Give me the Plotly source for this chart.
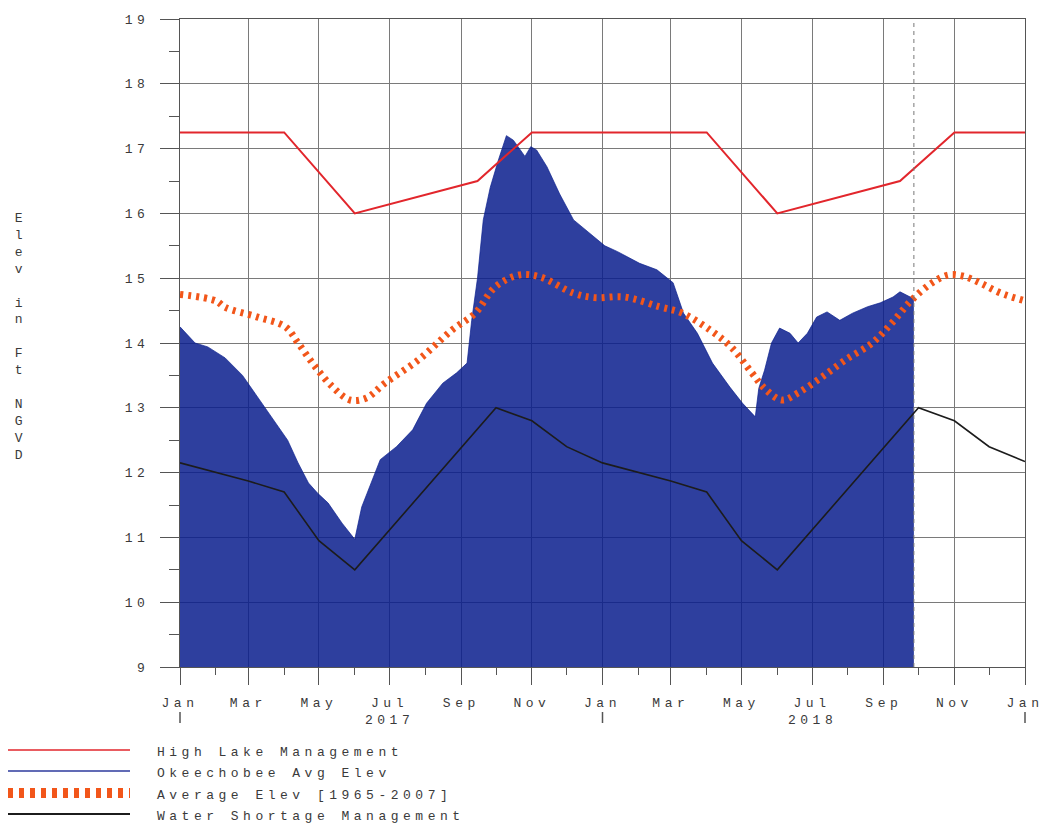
import pandas as pd
import plotly.graph_objects as go

# ---- data -------------------------------------------------------------
lake_dates = [
    "2017-01-01", "2017-01-14", "2017-01-25", "2017-02-09", "2017-02-24",
    "2017-03-09", "2017-03-21", "2017-04-04", "2017-04-13", "2017-04-22",
    "2017-04-30", "2017-05-09", "2017-05-21", "2017-06-01", "2017-06-07",
    "2017-06-14", "2017-06-23", "2017-07-07", "2017-07-21", "2017-08-02",
    "2017-08-16", "2017-08-28", "2017-09-06", "2017-09-10", "2017-09-15",
    "2017-09-20", "2017-09-26", "2017-10-03", "2017-10-10", "2017-10-16",
    "2017-10-26", "2017-10-31", "2017-11-05", "2017-11-14", "2017-11-25",
    "2017-12-07", "2017-12-21", "2018-01-03", "2018-01-14", "2018-02-02",
    "2018-02-17", "2018-03-03", "2018-03-12", "2018-03-24", "2018-04-06",
    "2018-04-21", "2018-05-02", "2018-05-13", "2018-05-16", "2018-05-21",
    "2018-05-27", "2018-06-03", "2018-06-12", "2018-06-19", "2018-06-27",
    "2018-07-05", "2018-07-14", "2018-07-25", "2018-08-05", "2018-08-18",
    "2018-08-29", "2018-09-09", "2018-09-15", "2018-09-26", "2018-09-27",
]
lake_elev = [
    14.25, 14.00, 13.94, 13.77, 13.50,
    13.17, 12.86, 12.50, 12.15, 11.84,
    11.68, 11.53, 11.22, 10.97, 11.47,
    11.78, 12.20, 12.40, 12.66, 13.07,
    13.38, 13.54, 13.69, 14.35, 15.00,
    15.90, 16.40, 16.82, 17.20, 17.13,
    16.88, 17.03, 16.98, 16.72, 16.30,
    15.90, 15.70, 15.50, 15.41, 15.23,
    15.13, 14.93, 14.46, 14.15, 13.69,
    13.32, 13.07, 12.86, 13.30, 13.58,
    14.00, 14.23, 14.15, 14.00, 14.15,
    14.40, 14.48, 14.35, 14.46, 14.56,
    14.62, 14.71, 14.79, 14.69, 14.70,
]

avg_dates = [
    "2017-01-01", "2017-02-01", "2017-02-09", "2017-03-09", "2017-04-02",
    "2017-04-13", "2017-04-28", "2017-05-13", "2017-05-28", "2017-06-11",
    "2017-06-27", "2017-07-26", "2017-08-24", "2017-09-13", "2017-09-30",
    "2017-10-21", "2017-11-08", "2017-12-07", "2017-12-25", "2018-01-20",
    "2018-02-19", "2018-03-11", "2018-04-04", "2018-04-22", "2018-05-10",
    "2018-05-21", "2018-06-05", "2018-06-19", "2018-07-10", "2018-07-30",
    "2018-08-22", "2018-09-08", "2018-09-25", "2018-10-12", "2018-10-27",
    "2018-11-09", "2018-11-24", "2018-12-11", "2019-01-01",
]
avg_elev = [
    14.75, 14.65, 14.55, 14.40, 14.25,
    14.00, 13.63, 13.32, 13.12, 13.15,
    13.38, 13.74, 14.20, 14.46, 14.86,
    15.05, 15.02, 14.77, 14.70, 14.71,
    14.56, 14.46, 14.20, 13.94, 13.54,
    13.30, 13.12, 13.23, 13.48, 13.74,
    14.00, 14.31, 14.66, 14.92, 15.05,
    15.03, 14.92, 14.77, 14.65,
]

high_dates = [
    "2017-01-01", "2017-04-01", "2017-06-01", "2017-09-15", "2017-11-01",
    "2018-04-01", "2018-06-01", "2018-09-15", "2018-11-01", "2019-01-01",
]
high_elev = [17.25, 17.25, 16.0, 16.5, 17.25, 17.25, 16.0, 16.5, 17.25, 17.25]

short_dates = [
    "2017-01-01", "2017-03-01", "2017-04-01", "2017-05-01", "2017-06-01",
    "2017-10-01", "2017-11-01", "2017-12-01", "2018-01-01", "2018-03-01",
    "2018-04-01", "2018-05-01", "2018-06-01", "2018-10-01", "2018-11-01",
    "2018-12-01", "2019-01-01",
]
short_elev = [
    12.15, 11.87, 11.70, 10.95, 10.50,
    13.00, 12.80, 12.40, 12.15, 11.87,
    11.70, 10.95, 10.50, 13.00, 12.80,
    12.40, 12.17,
]

x_start, x_end = "2017-01-01", "2019-01-01"
data_end = "2018-09-27"
year_labels = ["2017", "2018"]
year_label_dates = ["2017-07-01", "2018-07-01"]
year_mark_dates = ["2017-01-01", "2018-01-01", "2019-01-01"]

legend_names = [
    "High Lake Management",
    "Okeechobee Avg Elev",
    "Average Elev [1965-2007]",
    "Water Shortage Management",
]

# ---- styling ----------------------------------------------------------
W, H = 1042, 823
L, R, T, B = 180, 1025, 19, 667          # plot area in pixels
RED = "#e2262c"
BLUE_LINE = "#2d3a9c"
BLUE_FILL = "rgba(9,29,141,0.85)"
ORANGE = "#f2561a"
BLACK = "#1c1c1c"
GRID = "#7a7a7a"
AXIS = "#555555"
TEXT = "#3a3a3a"
FONT = "Liberation Mono, Courier New, monospace"


def px_x(px):
    return (px - L) / (R - L)


def px_y(py):
    return (B - py) / (B - T)


def date_frac(d):
    t0, t1 = pd.Timestamp(x_start), pd.Timestamp(x_end)
    return (pd.Timestamp(d) - t0) / (t1 - t0)


fig = go.Figure()

fig.add_trace(go.Scatter(
    x=lake_dates, y=lake_elev, mode="lines",
    line=dict(color=BLUE_FILL, width=0.8),
    fill="tozeroy", fillcolor=BLUE_FILL, name=legend_names[1],
))
fig.add_trace(go.Scatter(
    x=avg_dates, y=avg_elev, mode="lines", line_shape="spline",
    line=dict(color=ORANGE, width=7, dash="3px,5px"), name=legend_names[2],
))
fig.add_trace(go.Scatter(
    x=high_dates, y=high_elev, mode="lines",
    line=dict(color=RED, width=2), name=legend_names[0],
))
fig.add_trace(go.Scatter(
    x=short_dates, y=short_elev, mode="lines",
    line=dict(color=BLACK, width=1.6), name=legend_names[3],
))

# end of observed record
fig.add_shape(type="line", xref="x", yref="paper", x0=data_end, x1=data_end,
              y0=0, y1=1, line=dict(color="#777777", width=1, dash="4px,4px"))

# year row below the month labels
for d, lab in zip(year_label_dates, year_labels):
    fig.add_annotation(x=d, xref="x", y=px_y(720), yref="paper", text=lab,
                       showarrow=False, xanchor="center", yanchor="middle",
                       font=dict(family=FONT, size=13, color=TEXT))
for d in year_mark_dates:
    xf = date_frac(d)
    fig.add_shape(type="line", xref="paper", yref="paper", x0=xf, x1=xf,
                  y0=px_y(712), y1=px_y(723), line=dict(color=AXIS, width=1.5))

# vertical axis title, one letter per line
title = "Elev in Ft NGVD"
fig.add_annotation(x=px_x(21), xref="paper", y=px_y(337), yref="paper",
                   text="<br>".join(ch if ch != " " else "&nbsp;" for ch in title),
                   showarrow=False, xanchor="center", yanchor="middle",
                   align="center", font=dict(family=FONT, size=13, color=TEXT))

# legend block
legend_rows = [750, 771, 793, 814]
legend_styles = [
    dict(color=RED, width=1.6),
    dict(color=BLUE_LINE, width=1.6),
    dict(color=ORANGE, width=10, dash="5px,6px"),
    dict(color=BLACK, width=2),
]
for yrow, name, st in zip(legend_rows, legend_names, legend_styles):
    fig.add_shape(type="line", xref="paper", yref="paper",
                  x0=px_x(8), x1=px_x(130), y0=px_y(yrow), y1=px_y(yrow), line=st)
    fig.add_annotation(x=px_x(155), xref="paper", y=px_y(yrow + 2), yref="paper",
                       text=name, showarrow=False, xanchor="left", yanchor="middle",
                       align="left", font=dict(family=FONT, size=13, color=TEXT))

fig.update_layout(
    width=W, height=H,
    margin=dict(l=L, r=W - R, t=T, b=H - B, autoexpand=False),
    paper_bgcolor="white", plot_bgcolor="white",
    showlegend=False,
    font=dict(family=FONT, size=13, color=TEXT),
)
fig.update_xaxes(
    type="date", range=[x_start, x_end],
    dtick="M2", tick0=x_start, tickformat="%b",
    ticks="outside", ticklen=17, tickcolor=AXIS, tickwidth=1,
    ticklabelstandoff=6,
    showgrid=True, gridcolor=GRID, gridwidth=1,
    showline=True, linecolor=AXIS, linewidth=1, mirror=True,
    minor=dict(dtick="M1", tick0=x_start, ticks="outside", ticklen=7,
               tickcolor=AXIS, showgrid=False),
    zeroline=False, tickfont=dict(family=FONT, size=13, color=TEXT),
)
fig.update_yaxes(
    range=[9, 19], dtick=1, tick0=9,
    ticks="outside", ticklen=19, tickcolor=AXIS, tickwidth=1,
    ticklabelstandoff=8,
    showgrid=True, gridcolor=GRID, gridwidth=1,
    showline=True, linecolor=AXIS, linewidth=1, mirror=True,
    minor=dict(dtick=0.5, tick0=9, ticks="outside", ticklen=10,
               tickcolor=AXIS, showgrid=False),
    zeroline=False, tickfont=dict(family=FONT, size=13, color=TEXT),
)

# spaced typewriter-style lettering for every text element
spacing_js = (
    "var gd = document.getElementById('{plot_id}');"
    "gd.querySelectorAll('text').forEach(function(t)"
    "{t.style.letterSpacing='4.5px';});"
)
fig.write_html("out.html", post_script=spacing_js)
